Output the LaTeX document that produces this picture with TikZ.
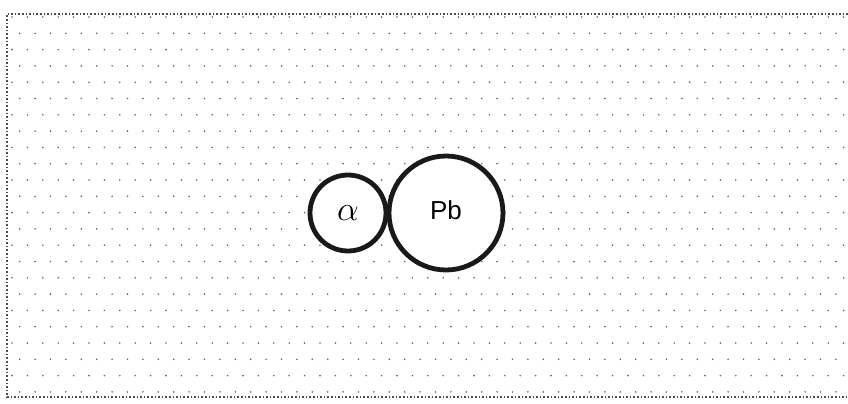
\documentclass[tikz,border=0pt]{standalone}
\usepackage{fontspec}
\setsansfont{Liberation Sans}
\begin{document}
\begin{tikzpicture}[
  x=0.5pt,y=-0.5pt,
  frame/.style={draw=black!70,densely dotted,line width=0.8pt},
  grain/.style={fill=black!60},
  ball/.style={circle,draw=black!90,line width=2.4pt,fill=white,inner sep=0pt},
]
  \useasboundingbox (0,0) rectangle (848,403);
  % dotted background
  \foreach \r in {0,...,23}{
    \pgfmathsetmacro{\yy}{17+16.3*\r}
    \pgfmathsetmacro{\off}{mod(\r,2)*7.7}
    \foreach \c in {0,...,54}{
      \fill[grain] ({12+\off+15.4*\c},\yy) circle (0.9);
    }
  }
  \draw[frame] (848,14) -- (7,14) -- (7,397) -- (848,397);

  \node[ball,minimum size=38pt] (alpha) at (348,213) {\raisebox{-3pt}{\fontsize{17}{20}\selectfont$\alpha$}};
  \node[ball,minimum size=57pt] (pb) at (446,213) {\raisebox{2.5pt}{\fontsize{13}{15}\selectfont\sffamily Pb}};
\end{tikzpicture}
\end{document}
